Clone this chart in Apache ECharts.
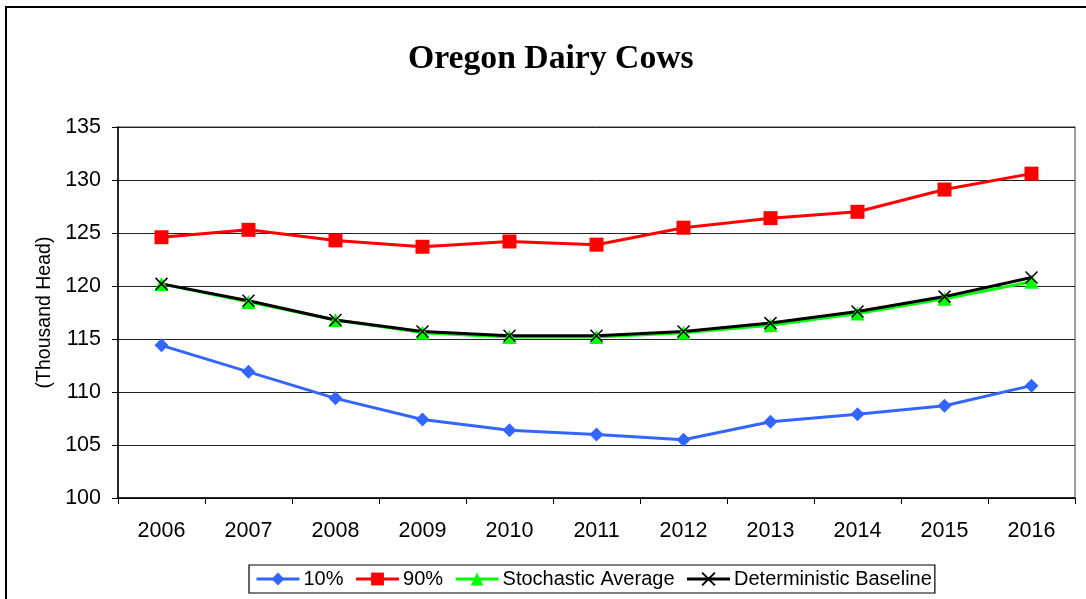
<!DOCTYPE html>
<html><head><meta charset="utf-8">
<script src="https://cdn.jsdelivr.net/npm/echarts@6/dist/echarts.min.js"></script>
<style>html,body{margin:0;padding:0;background:#fff}#c{width:1086px;height:599px}</style>
</head><body><div id="c"></div>
<script>
const years = ['2006','2007','2008','2009','2010','2011','2012','2013','2014','2015','2016'];
const p10 = [114.4,111.9,109.4,107.4,106.4,106.0,105.5,107.2,107.9,108.7,110.6];
const p90 = [124.6,125.3,124.3,123.7,124.2,123.9,125.5,126.4,127.0,129.1,130.6];
const stochAvg = [120.2,118.5,116.8,115.6,115.2,115.2,115.6,116.3,117.4,118.8,120.4];
const detBase = [120.2,118.6,116.8,115.7,115.3,115.3,115.7,116.5,117.6,119.0,120.8];
const yTicks = {min:100, max:135, interval:5};

const xPath = 'path://M0,0 L10,10 M10,0 L0,10';
const chart = echarts.init(document.getElementById('c'));
const font = 'Liberation Sans, Arial, sans-serif';
chart.setOption({
  animation:false,
  backgroundColor:'#fff',
  title:{text:'Oregon Dairy Cows',left:403,top:37,
    textStyle:{fontFamily:'Liberation Serif, Times New Roman, serif',fontWeight:'bold',fontSize:33.7,color:'#000'}},
  graphic:[{type:'rect',shape:{x:6,y:7,width:1100,height:610},style:{fill:'none',stroke:'#000',lineWidth:2}}],
  grid:{left:118,right:11,top:127,bottom:101,show:true,borderColor:'#808080',borderWidth:1.5},
  legend:{top:565,left:249,padding:[4,3,4,6],borderColor:'#000',borderWidth:1.2,itemWidth:43,itemHeight:16,itemGap:11,
    lineStyle:{width:3},
    textStyle:{fontFamily:font,fontSize:20,color:'#000',padding:[0,0,0,-1]},
    data:['10%','90%','Stochastic Average','Deterministic Baseline']},
  xAxis:{type:'category',data:years,boundaryGap:true,
    axisLine:{lineStyle:{color:'#000',width:1.5}},
    axisTick:{show:true,length:6,inside:false,lineStyle:{color:'#000'}},
    axisLabel:{fontFamily:font,fontSize:21.5,color:'#000',margin:22}},
  yAxis:{type:'value',min:yTicks.min,max:yTicks.max,interval:yTicks.interval,
    name:'(Thousand Head)',nameLocation:'middle',nameGap:61,
    nameTextStyle:{fontFamily:font,fontSize:19.5,color:'#000'},
    axisLine:{show:true,lineStyle:{color:'#000',width:1.5}},
    axisTick:{show:true,length:6,lineStyle:{color:'#000'}},
    axisLabel:{fontFamily:font,fontSize:21.5,color:'#000',margin:17},
    splitLine:{lineStyle:{color:'#222',width:1}}},
  series:[
    {name:'10%',type:'line',data:p10,symbol:'diamond',symbolSize:14,
      lineStyle:{color:'#3366FF',width:3},itemStyle:{color:'#3366FF'}},
    {name:'90%',type:'line',data:p90,symbol:'rect',symbolSize:14,
      lineStyle:{color:'#FF0000',width:3},itemStyle:{color:'#FF0000'}},
    {name:'Stochastic Average',type:'line',data:stochAvg,symbol:'triangle',symbolSize:14,
      lineStyle:{color:'#00FF00',width:3},itemStyle:{color:'#00FF00'}},
    {name:'Deterministic Baseline',type:'line',data:detBase,symbol:xPath,symbolSize:12,
      lineStyle:{color:'#000',width:3},itemStyle:{color:'#000',borderColor:'#000',borderWidth:1.5}}
  ]
});
</script></body></html>
